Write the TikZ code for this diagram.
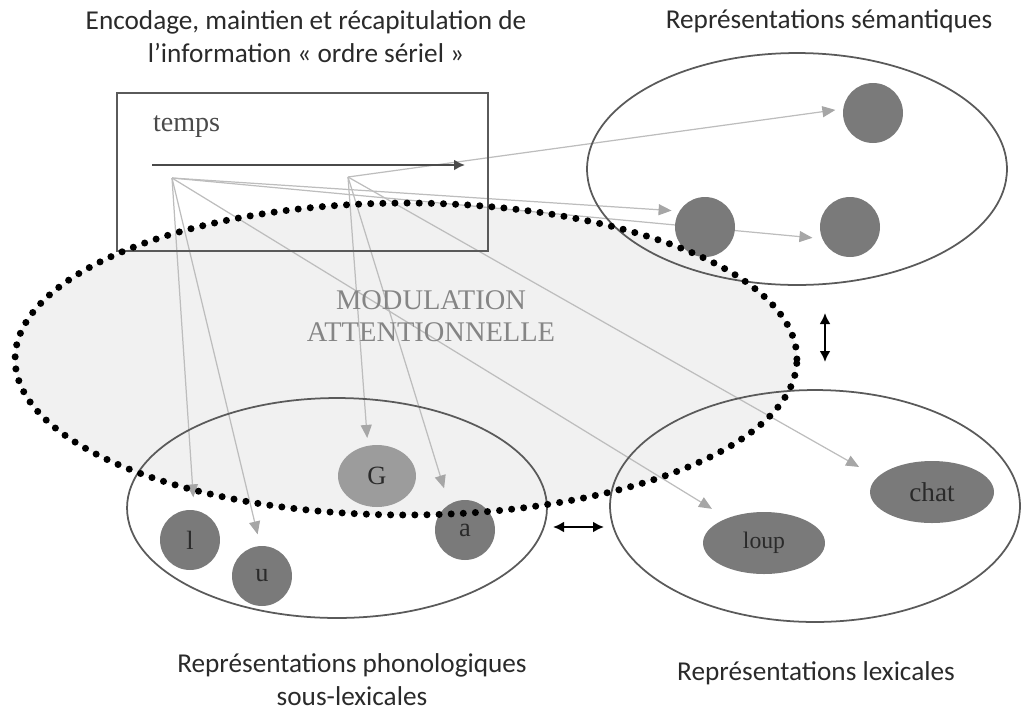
\documentclass[tikz,border=0pt]{standalone}
\usepackage{fontspec}
\setmainfont{Carlito}
\newfontfamily\figserif{Liberation Serif}
\usepackage{tikz}
\usetikzlibrary{shapes.geometric, positioning}
\usetikzlibrary{arrows.meta}
\tikzset{>={Latex[width=2.2mm,length=2.2mm]}}
\pgfdeclarelayer{zone}
\pgfdeclarelayer{links}
\pgfsetlayers{zone,links,main}
\definecolor{rim}{HTML}{5A5A5A}
\definecolor{link}{HTML}{BDBDBD}
\definecolor{linktip}{HTML}{A6A6A6}
\definecolor{unit}{HTML}{7A7A7A}
\definecolor{unitlight}{HTML}{9C9C9C}
\definecolor{attfill}{HTML}{F1F1F1}
\definecolor{ink}{HTML}{2A2A2A}
\definecolor{modul}{HTML}{858585}

\begin{document}
\begin{tikzpicture}[
    x = 0.02cm, y = -0.02cm,
    every node/.style = {inner sep=0pt, outer sep=0pt},
    pool/.style = {ellipse, draw=rim, line width=1pt},
    unit/.style = {circle, fill=unit, minimum size=1.2cm, text=ink,
        font=\figserif\fontsize{15}{15}\selectfont},
    oval/.style = {ellipse, fill=unit, minimum height=1.24cm, text=ink,
        font=\figserif\fontsize{15}{15}\selectfont},
    attn/.style = {ellipse, minimum width=15.64cm, minimum height=6.24cm},
    link/.style = {draw=link, line width=0.7pt,
        -{Triangle[length=2.6mm,width=2.2mm,color=linktip]}},
    caption/.style = {font=\fontsize{15.5}{18.7}\selectfont, text=ink, align=center}
  ]
  \useasboundingbox (0,0) rectangle (1024,711);

  % zone attentionnelle
  \begin{pgfonlayer}{zone}
    \node[attn, fill=attfill] (att) at (406,359) {};
  \end{pgfonlayer}

  % boite ordre seriel
  \node[draw=rim, line width=1pt, minimum width=7.42cm, minimum height=3.16cm] (seq) at (302.5,172) {};
  \node[anchor=west, text=ink!85, font=\figserif\fontsize{16}{16}\selectfont] (temps) at (153,127) {temps};
  \coordinate (t0) at (152,165);
  \coordinate (t1) at (465,165);
  \coordinate (A) at (172,178);
  \coordinate (B) at (348,177);

  % grands ensembles
  \node[pool, minimum width=8.4cm, minimum height=4.64cm] (sem) at (797,169) {};
  \node[pool, minimum width=8.4cm, minimum height=4.4cm] (phon) at (337,508) {};
  \node[pool, minimum width=8.2cm, minimum height=4.64cm] (lex) at (815,506) {};

  % unites
  \node[unit] (s1) at (873,113) {};
  \node[unit] (s2) at (705,227) {};
  \node[unit] (s3) at (850,227) {};
  \node[unit] (l) at (190,540) {l};
  \node[unit] (u) at (262,576) {u};
  \node[oval, fill=unitlight, minimum width=1.56cm] (G) at (377,476) {G};
  \node[unit] (a) at (465,530) {a};
  \node[oval, minimum width=2.44cm, font=\figserif\fontsize{13.5}{13.5}\selectfont] (loup) at (764,543) {loup};
  \node[oval, minimum width=2.48cm, font=\figserif\fontsize{15.5}{15.5}\selectfont] (chat) at (932,492) {chat};

  % connexions
  \begin{pgfonlayer}{links}
    \foreach \src/\dst/\gap in {B/s1.172/1.6mm, A/s2.148/1.6mm, A/s3.203/2mm,
        A/l.82/2.6mm, A/u.93/2.4mm, A/loup.146/3.6mm,
        B/G.107/1.6mm, B/a.122/3.4mm, B/chat.165/4.2mm}
      \path[link, shorten >=\gap] (\src) -- (\dst);
    \draw[->, line width=1.6pt, draw=ink!85] (t0) -- (t1);
  \end{pgfonlayer}

  \node[attn, draw=black, line width=4pt, dash pattern=on 0pt off 6.9pt, line cap=round] (attrim) at (att.center) {};
  \node[align=center, text=modul, font=\figserif\fontsize{16.2}{18}\selectfont] (mod) at (431,316) {MODULATION\\ATTENTIONNELLE};

  % liens bidirectionnels
  \coordinate (v0) at (825,313);
  \coordinate (v1) at (825,362);
  \coordinate (h0) at (553,527);
  \coordinate (h1) at (604,527);
  \draw[<->, line width=1.3pt] (v0) -- (v1);
  \draw[<->, line width=1.3pt] (h0) -- (h1);

  % titres
  \node[caption] (enc) at (306,37) {Encodage, maintien et récapitulation de\\l’information « ordre sériel »};
  \node[caption] (semlab) at (829,21) {Représentations sémantiques};
  \node[caption] (phonlab) at (352,680) {Représentations phonologiques\\sous-lexicales};
  \node[caption] (lexlab) at (816,673) {Représentations lexicales};
\end{tikzpicture}
\end{document}
